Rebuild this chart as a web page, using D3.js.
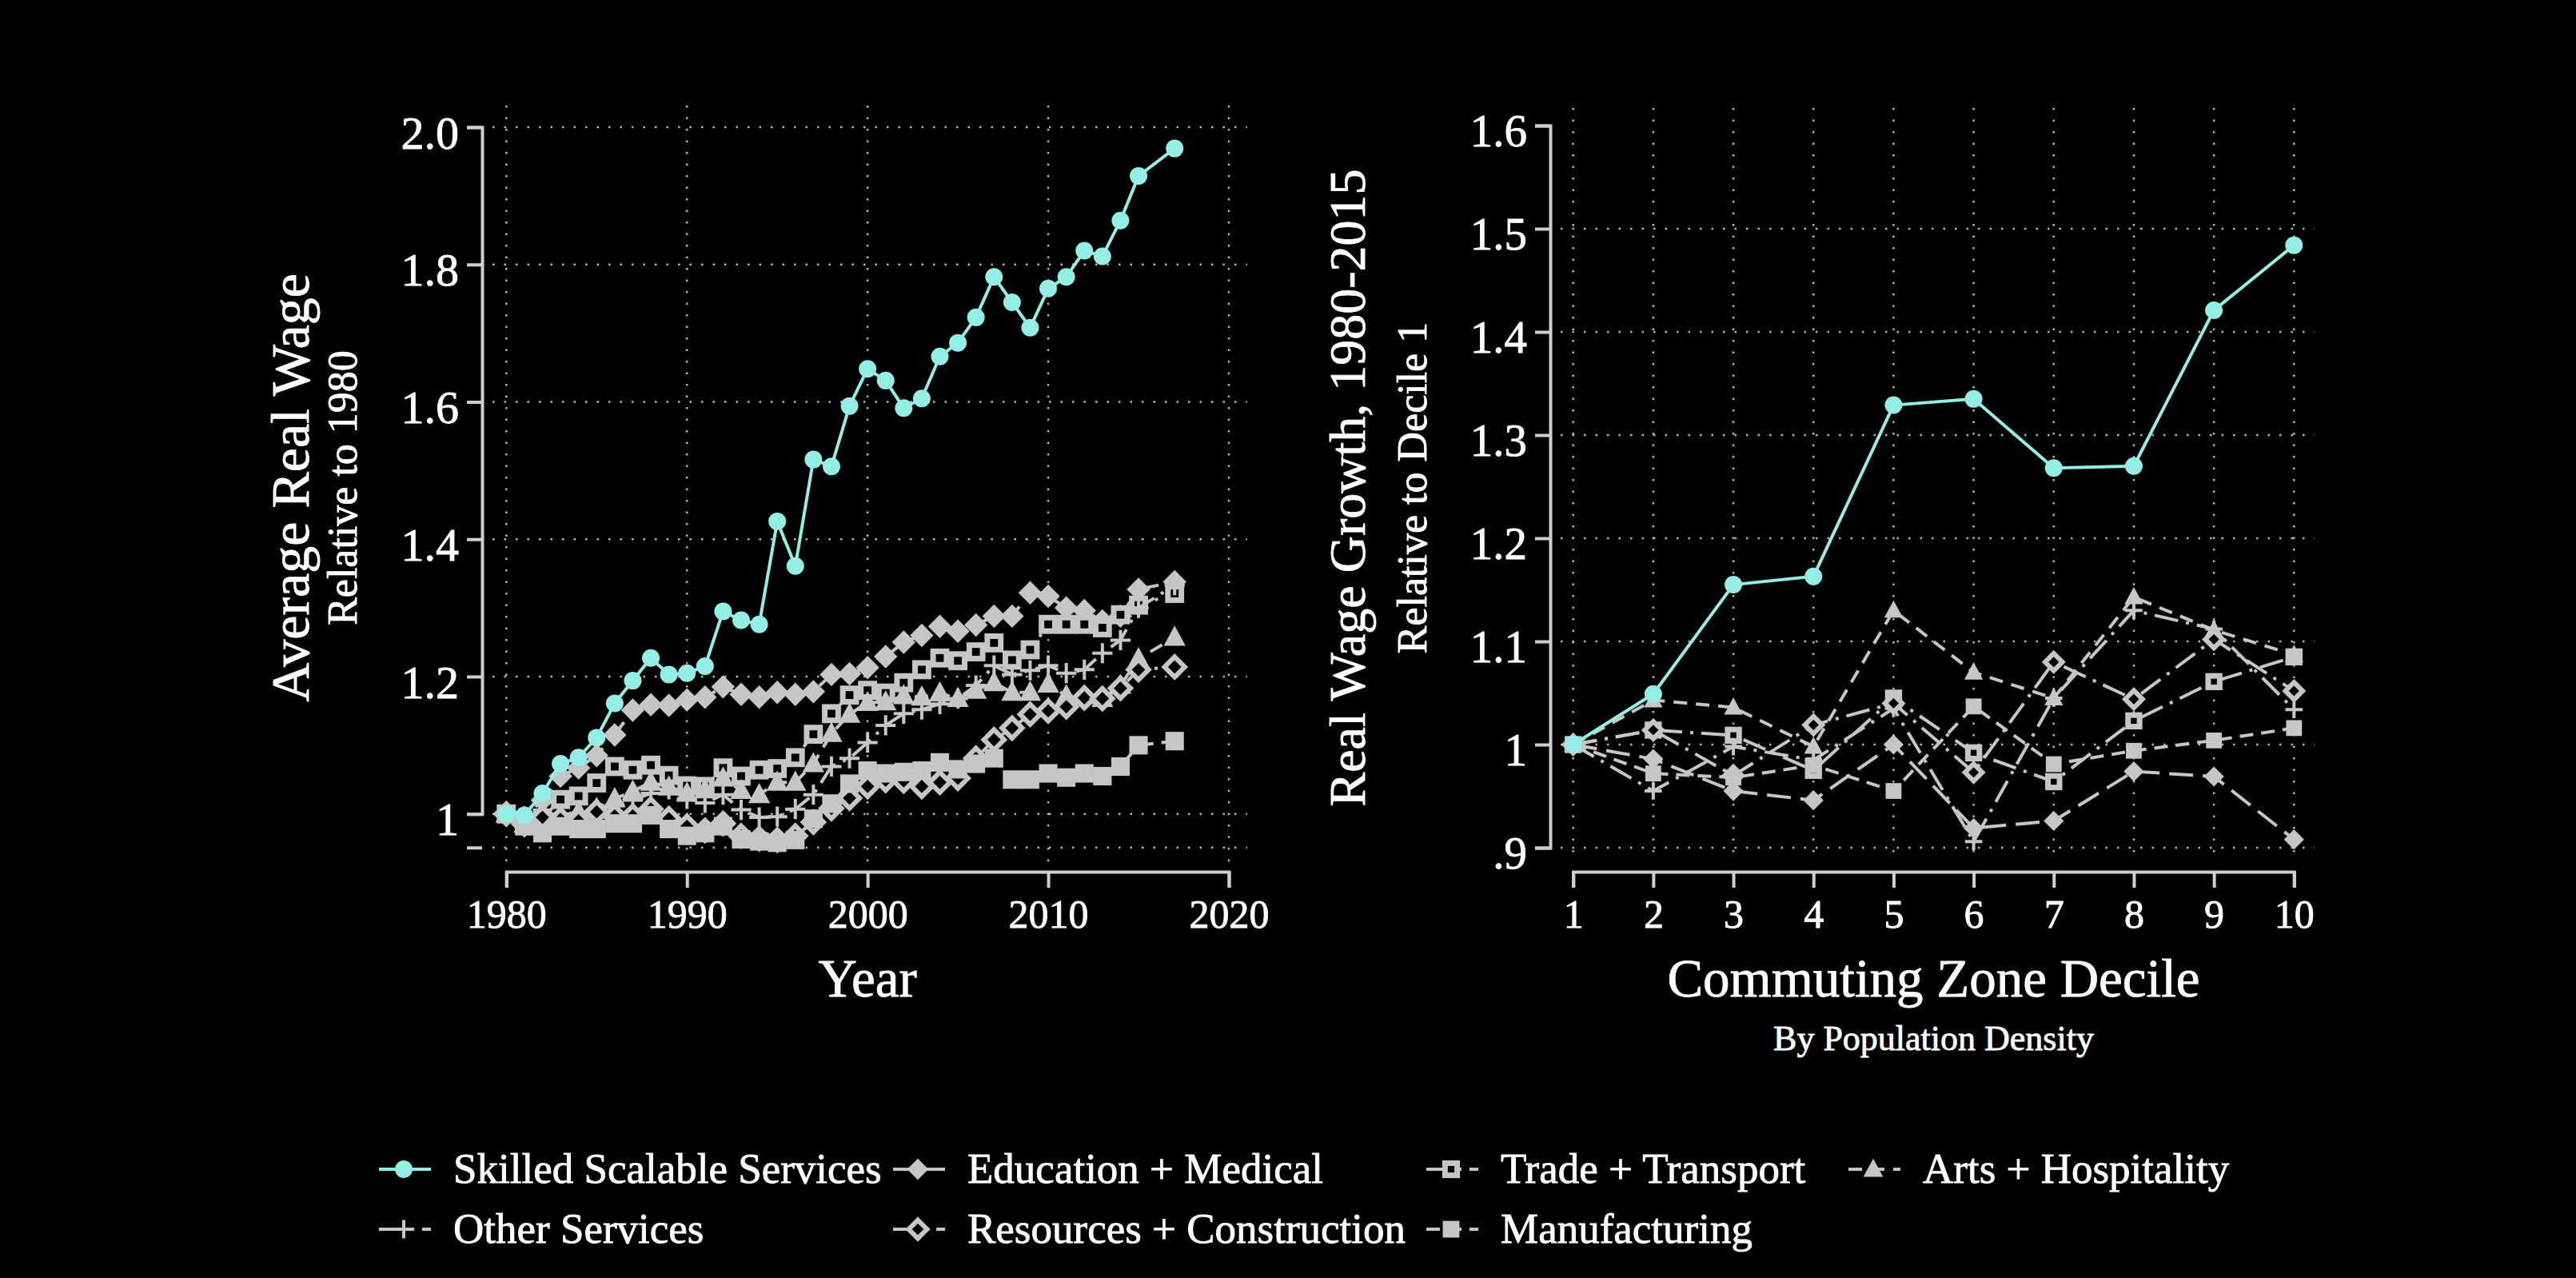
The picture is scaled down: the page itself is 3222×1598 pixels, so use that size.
<!DOCTYPE html>
<html>
<head>
<meta charset="utf-8">
<script src="https://cdn.jsdelivr.net/npm/d3@7"></script>
<style>
  body { margin: 0; background: #000; }
  text { font-family: "Liberation Serif", serif; fill: #fff; stroke: #fff; stroke-width: 0.8px; }
</style>
</head>
<body>
<div id="chart"></div>
<script>
// ---- data ----
const years = [1980, 1981, 1982, 1983, 1984, 1985, 1986, 1987, 1988, 1989,
  1990, 1991, 1992, 1993, 1994, 1995, 1996, 1997, 1998, 1999,
  2000, 2001, 2002, 2003, 2004, 2005, 2006, 2007, 2008, 2009,
  2010, 2011, 2012, 2013, 2014, 2015, 2017];

const skilledByYear = [1.000, 0.998, 1.030, 1.073, 1.082, 1.111, 1.161, 1.194, 1.227, 1.203,
  1.205, 1.215, 1.295, 1.282, 1.276, 1.426, 1.361, 1.516, 1.506, 1.594,
  1.648, 1.631, 1.591, 1.605, 1.666, 1.686, 1.723, 1.782, 1.745, 1.708,
  1.765, 1.782, 1.820, 1.812, 1.864, 1.929, 1.969];
const eduByYear = [1.000, 0.995, 1.020, 1.055, 1.067, 1.085, 1.115, 1.151, 1.159, 1.158,
  1.166, 1.170, 1.185, 1.174, 1.170, 1.177, 1.174, 1.178, 1.203, 1.204,
  1.213, 1.229, 1.250, 1.260, 1.273, 1.266, 1.275, 1.288, 1.288, 1.322,
  1.317, 1.300, 1.296, 1.281, 1.288, 1.327, 1.338];
const tradeByYear = [1.000, 0.985, 0.994, 1.021, 1.026, 1.045, 1.069, 1.064, 1.071, 1.056,
  1.041, 1.040, 1.067, 1.055, 1.064, 1.066, 1.082, 1.116, 1.146, 1.173,
  1.180, 1.176, 1.191, 1.210, 1.227, 1.223, 1.236, 1.249, 1.224, 1.239,
  1.276, 1.276, 1.276, 1.271, 1.290, 1.304, 1.321];
const artsByYear = [1.000, 0.985, 0.990, 0.998, 1.003, 1.008, 1.022, 1.033, 1.046, 1.039,
  1.030, 1.035, 1.052, 1.034, 1.028, 1.046, 1.046, 1.073, 1.117, 1.145,
  1.162, 1.163, 1.172, 1.170, 1.176, 1.168, 1.180, 1.191, 1.177, 1.177,
  1.189, 1.172, 1.172, 1.168, 1.187, 1.226, 1.257];
const otherByYear = [1.000, 0.990, 0.995, 1.000, 0.997, 1.006, 1.012, 1.020, 1.030, 1.036,
  1.022, 1.016, 1.028, 1.006, 0.995, 0.996, 1.007, 1.028, 1.069, 1.081,
  1.104, 1.129, 1.146, 1.152, 1.160, 1.168, 1.187, 1.216, 1.203, 1.209,
  1.216, 1.205, 1.210, 1.234, 1.253, 1.300, 1.333];
const resByYear = [1.000, 0.985, 0.995, 0.992, 0.990, 1.003, 0.997, 0.997, 1.007, 0.993,
  0.982, 0.976, 0.986, 0.968, 0.964, 0.962, 0.968, 0.988, 1.008, 1.023,
  1.040, 1.049, 1.048, 1.040, 1.046, 1.052, 1.081, 1.108, 1.125, 1.145,
  1.150, 1.156, 1.169, 1.168, 1.183, 1.210, 1.214];
const manuByYear = [1.000, 0.982, 0.972, 0.982, 0.978, 0.978, 0.986, 0.986, 0.998, 0.978,
  0.968, 0.972, 0.982, 0.963, 0.960, 0.958, 0.962, 0.993, 1.015, 1.044,
  1.063, 1.059, 1.061, 1.063, 1.075, 1.065, 1.073, 1.081, 1.050, 1.050,
  1.059, 1.053, 1.059, 1.055, 1.069, 1.100, 1.106];

const deciles = [1, 2, 3, 4, 5, 6, 7, 8, 9, 10];
const skilledByDecile = [1.000, 1.049, 1.155, 1.163, 1.329, 1.335, 1.268, 1.270, 1.421, 1.484];
const eduByDecile     = [1.000, 0.986, 0.955, 0.946, 1.000, 0.919, 0.926, 0.974, 0.969, 0.908];
const tradeByDecile   = [1.000, 1.014, 1.009, 0.975, 1.045, 0.992, 0.964, 1.023, 1.061, 1.085];
const artsByDecile    = [1.000, 1.043, 1.036, 0.998, 1.130, 1.070, 1.045, 1.143, 1.111, 1.087];
const otherByDecile   = [1.000, 0.955, 0.998, 0.985, 1.035, 0.906, 1.045, 1.130, 1.112, 1.034];
const resByDecile     = [1.000, 1.014, 0.970, 1.019, 1.040, 0.973, 1.080, 1.044, 1.102, 1.052];
const manuByDecile    = [1.000, 0.972, 0.968, 0.980, 0.955, 1.037, 0.981, 0.994, 1.004, 1.016];

const seriesNames = ['Skilled Scalable Services', 'Education + Medical', 'Trade + Transport',
  'Arts + Hospitality', 'Other Services', 'Resources + Construction', 'Manufacturing'];

const yearTicks = [1980, 1990, 2000, 2010, 2020];
const leftYTicks = [1, 1.2, 1.4, 1.6, 1.8, 2.0];
const leftYLabels = ['1', '1.2', '1.4', '1.6', '1.8', '2.0'];
const rightYTicks = [0.9, 1.0, 1.1, 1.2, 1.3, 1.4, 1.5, 1.6];
const rightYLabels = ['.9', '1', '1.1', '1.2', '1.3', '1.4', '1.5', '1.6'];

// ---- styles ----
const cyan = '#93efe6', gray = '#c6c6c6';
const styles = [
  { color: cyan, marker: 'circle',        dash: null },
  { color: gray, marker: 'diamond',       dash: '30 12' },
  { color: gray, marker: 'squareHollow',  dash: '30 10 4 10' },
  { color: gray, marker: 'triangle',      dash: '17 11' },
  { color: gray, marker: 'plus',          dash: '30 10 4 10' },
  { color: gray, marker: 'diamondHollow', dash: '30 10 4 10' },
  { color: gray, marker: 'square',        dash: '17 10' }
];

const W = 3222, H = 1598;
const svg = d3.select('#chart').append('svg')
  .attr('width', W).attr('height', H)
  .style('background-color', '#000');

function drawMarker(g, type, color, k) {
  k = k || 1;
  if (type === 'circle') g.append('circle').attr('r', 11).attr('fill', color);
  else if (type === 'diamond') g.append('path').attr('d', `M0,${-14 * k}L${14 * k},0L0,${14 * k}L${-14 * k},0Z`).attr('fill', color);
  else if (type === 'diamondHollow') g.append('path').attr('d', `M0,${-12 * k}L${12 * k},0L0,${12 * k}L${-12 * k},0Z`)
    .attr('fill', '#000').attr('stroke', color).attr('stroke-width', 6);
  else if (type === 'square') g.append('rect').attr('x', -11 * k).attr('y', -11 * k)
    .attr('width', 22 * k).attr('height', 22 * k).attr('fill', color);
  else if (type === 'squareHollow') g.append('rect').attr('x', -8 * k).attr('y', -8 * k)
    .attr('width', 16 * k).attr('height', 16 * k).attr('fill', '#000').attr('stroke', color).attr('stroke-width', 7);
  else if (type === 'triangle') g.append('path').attr('d', `M0,${-14 * k}L${13 * k},${10 * k}L${-13 * k},${10 * k}Z`).attr('fill', color);
  else if (type === 'plus') g.append('path').attr('d', `M${-12 * k},0H${12 * k}M0,${-12 * k}V${12 * k}`)
    .attr('stroke', color).attr('stroke-width', 4).attr('fill', 'none');
}

function panel(opt) {
  const x = d3.scaleLinear().domain(opt.xDomain).range(opt.xRange);
  const y = d3.scaleLinear().domain(opt.yDomain).range(opt.yRange);
  const g = svg.append('g');

  // dotted grid
  const grid = g.append('g').attr('stroke', '#b4b4b4').attr('stroke-width', 2.5)
    .attr('stroke-dasharray', '2.5 12');
  grid.selectAll('.hg').data(opt.yGrid).join('line')
    .attr('x1', opt.gridX[0]).attr('x2', opt.gridX[1])
    .attr('y1', d => y(d)).attr('y2', d => y(d));
  grid.selectAll('.vg').data(opt.xTicks).join('line')
    .attr('x1', d => x(d)).attr('x2', d => x(d))
    .attr('y1', opt.gridY[0]).attr('y2', opt.gridY[1]);

  // axes
  const yAxis = d3.axisLeft(y).tickValues(opt.yTicks).tickSize(19).tickPadding(10)
    .tickFormat((d, i) => opt.yLabels[i] || '');
  const ya = g.append('g').attr('transform', `translate(${opt.yAxisX},0)`).call(yAxis);
  const xAxis = d3.axisBottom(x).tickValues(opt.xTicks).tickSize(20).tickPadding(12)
    .tickFormat(d3.format('d'));
  const xa = g.append('g').attr('transform', `translate(0,${opt.xAxisY})`).call(xAxis);

  [ya, xa].forEach(a => {
    a.select('.domain').attr('stroke', '#cfcfcf').attr('stroke-width', 4);
    a.selectAll('.tick line').attr('stroke', '#cfcfcf').attr('stroke-width', 4);
    a.selectAll('text').attr('fill', '#fff').style('font-family', '"Liberation Serif", serif');
  });
  ya.selectAll('text').style('font-size', opt.yFont + 'px').attr('dy', '0.45em');
  xa.selectAll('text').style('font-size', opt.xFont + 'px').attr('dy', '0.75em');

  // series
  const line = d3.line().x((d, i) => x(opt.xs[i])).y(d => y(d));
  const order = [1, 2, 3, 4, 5, 6, 0];
  order.forEach(k => {
    const s = styles[k];
    g.append('path').datum(opt.series[k])
      .attr('d', line).attr('fill', 'none').attr('stroke', s.color)
      .attr('stroke-width', 4).attr('stroke-dasharray', s.dash);
    opt.series[k].forEach((v, i) => {
      const m = g.append('g').attr('transform', `translate(${x(opt.xs[i])},${y(v)})`);
      drawMarker(m, s.marker, s.color, opt.markerScale);
    });
  });

  // titles
  g.append('text').attr('transform', `translate(${opt.titleX},${opt.titleY}) rotate(-90)`)
    .attr('text-anchor', 'middle').style('font-size', opt.titleFont + 'px').text(opt.title);
  g.append('text').attr('transform', `translate(${opt.subX},${opt.titleY}) rotate(-90)`)
    .attr('text-anchor', 'middle').style('font-size', '52px').text(opt.sub);
  const cx = (x(opt.xDomain[0]) + x(opt.xDomain[1])) / 2;
  g.append('text').attr('x', cx).attr('y', 1246).attr('text-anchor', 'middle')
    .style('font-size', '67px').text(opt.xTitle);
  if (opt.xSub) g.append('text').attr('x', cx).attr('y', 1313).attr('text-anchor', 'middle')
    .style('font-size', '44px').text(opt.xSub);
}

panel({
  xs: years,
  series: [skilledByYear, eduByYear, tradeByYear, artsByYear, otherByYear, resByYear, manuByYear],
  xDomain: [1980, 2020], xRange: [633.3, 1537],
  yDomain: [1, 2], yRange: [1017.7, 159],
  yAxisX: 603,
  yTicks: [0.951].concat(leftYTicks), yLabels: [''].concat(leftYLabels),
  yGrid: [0.951].concat(leftYTicks),
  xTicks: yearTicks,
  gridX: [616, 1560], gridY: [132, 1077],
  xAxisY: 1090,
  yFont: 58, xFont: 50, markerScale: 1.05,
  title: 'Average Real Wage', sub: 'Relative to 1980', titleFont: 68,
  titleX: 386, subX: 446, titleY: 610,
  xTitle: 'Year'
});

panel({
  xs: deciles,
  series: [skilledByDecile, eduByDecile, tradeByDecile, artsByDecile, otherByDecile, resByDecile, manuByDecile],
  xDomain: [1, 10], xRange: [1967.7, 2869.3],
  yDomain: [0.9, 1.6], yRange: [1060, 157],
  yAxisX: 1939,
  yTicks: rightYTicks, yLabels: rightYLabels,
  yGrid: rightYTicks.slice(0, 7),
  xTicks: deciles,
  gridX: [1952, 2895], gridY: [135, 1075],
  xAxisY: 1090,
  yFont: 57, xFont: 50, markerScale: 0.9,
  title: 'Real Wage Growth, 1980-2015', sub: 'Relative to Decile 1', titleFont: 64,
  titleX: 1707, subX: 1784, titleY: 610,
  xTitle: 'Commuting Zone Decile', xSub: 'By Population Density'
});

// legend
const legendCols = [474, 1117, 1784, 2312];
const legendRows = [1462, 1537];
const leg = svg.append('g');
seriesNames.forEach((name, i) => {
  const s = styles[i];
  const x0 = legendCols[i % 4], y0 = legendRows[Math.floor(i / 4)];
  const item = leg.append('g').attr('transform', `translate(${x0},${y0})`);
  item.append('line').attr('x1', 0).attr('x2', 65).attr('y1', 0).attr('y2', 0)
    .attr('stroke', s.color).attr('stroke-width', 4).attr('stroke-dasharray', s.dash);
  drawMarker(item.append('g').attr('transform', 'translate(31,0)'), s.marker, s.color, 0.95);
  item.append('text').attr('x', 93).attr('y', 17).style('font-size', '53px').text(name);
});
</script>
</body>
</html>
